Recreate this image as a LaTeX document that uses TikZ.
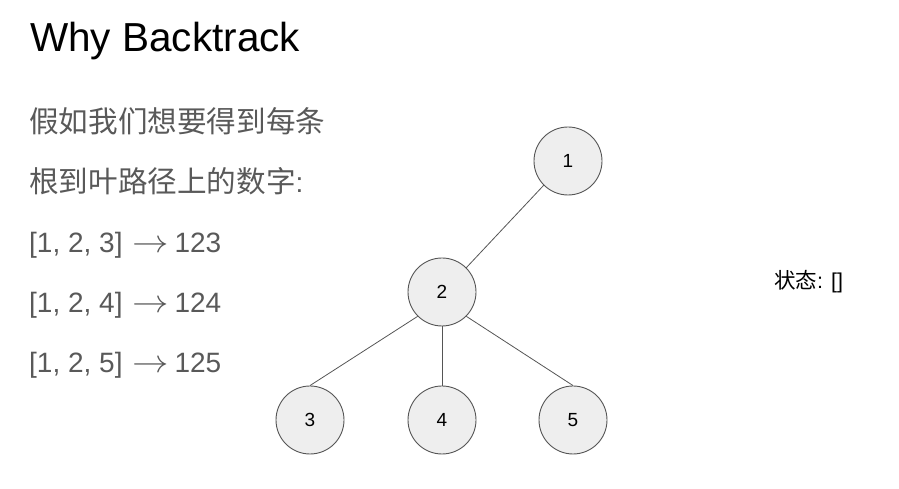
\RequirePackage{fix-cm}
\documentclass[tikz,border=0pt]{standalone}
\usepackage{graphicx}
\usepackage{fontspec}
\setmainfont{Liberation Sans}
\newfontfamily\cjk{Noto Sans CJK SC}
\definecolor{txtgray}{HTML}{595959}
\definecolor{nodefill}{HTML}{EEEEEE}
\definecolor{nodeline}{HTML}{555555}
\newcommand{\cjkbig}[1]{{\fontsize{29.6}{32}\selectfont\cjk #1}}
\newcommand{\arr}{\hspace{2pt}\scalebox{1.3}[1.15]{$\rightarrow$}\hspace{-2pt}}
\begin{document}
\begin{tikzpicture}[x=1pt,y=1pt,
  tnode/.style={circle, draw=nodeline, line width=0.9pt, fill=nodefill, minimum size=68pt, inner sep=0pt, font=\fontsize{19}{21}\selectfont},
  edge/.style={draw=nodeline, line width=0.8pt},
  bodytext/.style={anchor=base west, inner sep=0pt, text=txtgray, font=\fontsize{28}{32}\selectfont}]
\useasboundingbox (0,0) rectangle (899,489);
\node[anchor=base west, inner sep=0pt, font=\fontsize{40.5}{44}\selectfont] (title) at (30,437) {Why Backtrack};
\node[bodytext] (l1) at (29,356) {\cjkbig{假如我们想要得到每条}};
\node[bodytext] (l2) at (29,296) {\cjkbig{根到叶路径上的数字}:};
\node[bodytext] (l3) at (29,236) {[1, 2, 3]\ \arr\ 123};
\node[bodytext] (l4) at (29,176) {[1, 2, 4]\ \arr\ 124};
\node[bodytext] (l5) at (29,116) {[1, 2, 5]\ \arr\ 125};
\node[tnode] (n1) at (568,328) {1};
\node[tnode] (n2) at (442,197) {2};
\node[tnode] (n3) at (310,69) {3};
\node[tnode] (n4) at (442,69) {4};
\node[tnode] (n5) at (573,69) {5};
\draw[edge] (n1.225) -- (n2.45);
\draw[edge] (n2.225) -- (n3.north);
\draw[edge] (n2.south) -- (n4.north);
\draw[edge] (n2.-45) -- (n5.north);
\node[anchor=base west, inner sep=0pt, font=\fontsize{21.5}{24}\selectfont] (state) at (774,200) {{\cjk 状态}: []};
\end{tikzpicture}
\end{document}
